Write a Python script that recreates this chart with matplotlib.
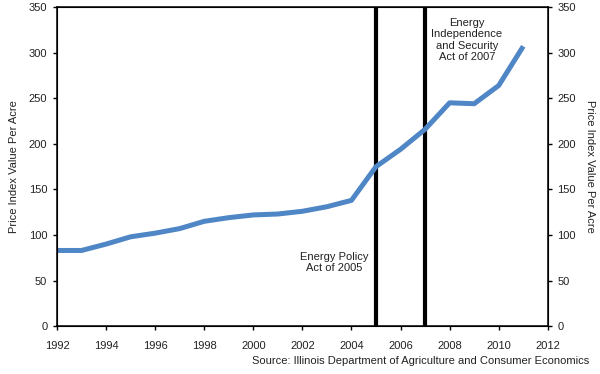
import matplotlib
matplotlib.use("Agg")
import matplotlib.pyplot as plt

years = [1992, 1993, 1994, 1995, 1996, 1997, 1998, 1999, 2000, 2001,
         2002, 2003, 2004, 2005, 2006, 2007, 2008, 2009, 2010, 2011]
values = [83, 83, 90, 98, 102, 107, 115, 119, 122, 123,
          126, 131, 138, 175, 194, 216, 245, 244, 264, 307]
policy_years = [2005, 2007]
x_ticks = list(range(1992, 2013, 2))
y_ticks = list(range(0, 351, 50))

txt = '#222222'
plt.rcParams['font.family'] = ['Liberation Sans', 'DejaVu Sans']
fig = plt.figure(figsize=(6, 3.74), dpi=100)
ax = fig.add_axes([0.095, 0.128, 0.818, 0.853])

ax.plot(years, values, color='#4F86C6', lw=3.6, solid_capstyle='butt', zorder=3)
for yr in policy_years:
    ax.axvline(yr, color='black', lw=3, zorder=2)

ax.set_xlim(1992, 2012)
ax.set_ylim(0, 350)
ax.set_xticks(x_ticks)
ax.set_yticks(y_ticks)
ax.tick_params(axis='both', direction='out', length=3, width=1, labelsize=8, labelcolor=txt, pad=4)
ax.tick_params(axis='x', pad=8)
for s in ax.spines.values():
    s.set_linewidth(1.1)
ax.set_ylabel('Price Index Value Per Acre', fontsize=8, labelpad=7, color=txt)

ax2 = ax.twinx()
ax2.set_ylim(0, 350)
ax2.set_yticks(y_ticks)
ax2.tick_params(axis='y', direction='out', length=3, width=1, labelsize=8, labelcolor=txt, pad=4)
ax2.set_ylabel('Price Index Value Per Acre', fontsize=8, rotation=270, labelpad=14, color=txt)

ax.text(2003.3, 70, 'Energy Policy\nAct of 2005', ha='center', va='center',
        fontsize=8, linespacing=1.15, color=txt)
ax.text(2008.7, 314, 'Energy\nIndependence\nand Security\nAct of 2007', ha='center', va='center',
        fontsize=8, linespacing=1.15, color=txt)

fig.text(0.982, 0.035, 'Source: Illinois Department of Agriculture and Consumer Economics',
         ha='right', va='center', fontsize=8, color=txt)

fig.savefig('out.png', dpi=100)
